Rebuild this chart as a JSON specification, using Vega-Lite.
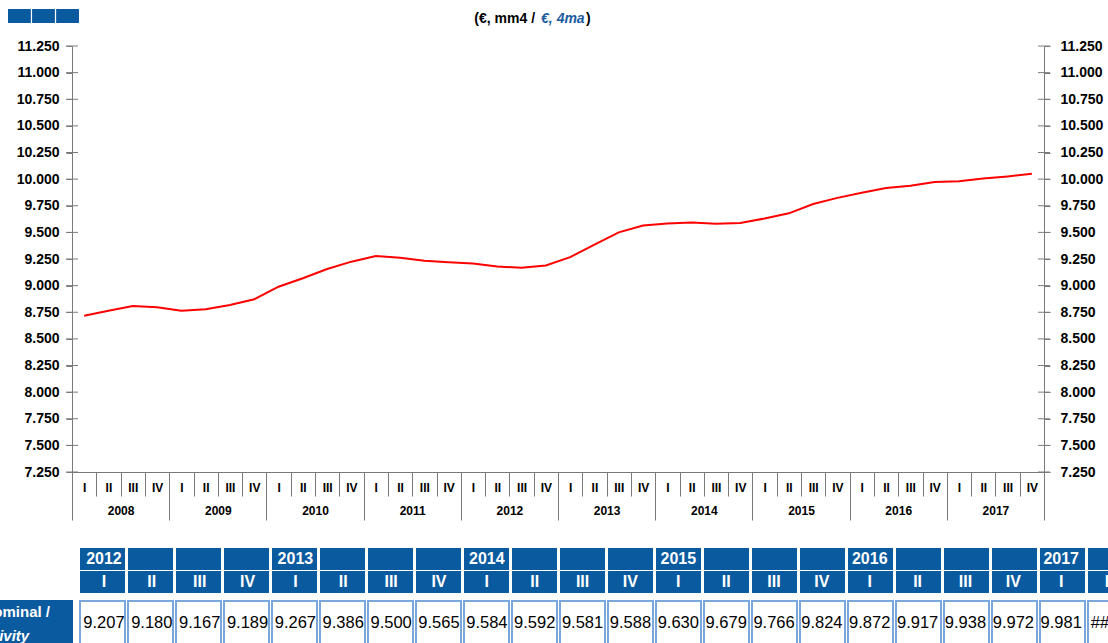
{
  "$schema": "https://vega.github.io/schema/vega-lite/v6.json",
  "usermeta": {"embedOptions": {"actions": false}},
  "width": 972,
  "height": 426,
  "autosize": {"type": "none"},
  "padding": {"left": 72, "top": 46, "right": 64, "bottom": 171},
  "background": "white",
  "config": {
    "view": {"stroke": null},
    "font": "Liberation Sans",
    "axis": {"labelFont": "Liberation Sans", "titleFont": "Liberation Sans"},
    "text": {"font": "Liberation Sans"}
  },
  "datasets": {
    "s": [
      {"year": 2008, "q": "I", "i": 0, "v": 8.718},
      {"year": 2008, "q": "II", "i": 1, "v": 8.765},
      {"year": 2008, "q": "III", "i": 2, "v": 8.809},
      {"year": 2008, "q": "IV", "i": 3, "v": 8.797},
      {"year": 2009, "q": "I", "i": 4, "v": 8.765},
      {"year": 2009, "q": "II", "i": 5, "v": 8.778},
      {"year": 2009, "q": "III", "i": 6, "v": 8.818},
      {"year": 2009, "q": "IV", "i": 7, "v": 8.872},
      {"year": 2010, "q": "I", "i": 8, "v": 8.990},
      {"year": 2010, "q": "II", "i": 9, "v": 9.069},
      {"year": 2010, "q": "III", "i": 10, "v": 9.156},
      {"year": 2010, "q": "IV", "i": 11, "v": 9.225},
      {"year": 2011, "q": "I", "i": 12, "v": 9.278},
      {"year": 2011, "q": "II", "i": 13, "v": 9.262},
      {"year": 2011, "q": "III", "i": 14, "v": 9.234},
      {"year": 2011, "q": "IV", "i": 15, "v": 9.219},
      {"year": 2012, "q": "I", "i": 16, "v": 9.207},
      {"year": 2012, "q": "II", "i": 17, "v": 9.180},
      {"year": 2012, "q": "III", "i": 18, "v": 9.167},
      {"year": 2012, "q": "IV", "i": 19, "v": 9.189},
      {"year": 2013, "q": "I", "i": 20, "v": 9.267},
      {"year": 2013, "q": "II", "i": 21, "v": 9.386},
      {"year": 2013, "q": "III", "i": 22, "v": 9.500},
      {"year": 2013, "q": "IV", "i": 23, "v": 9.565},
      {"year": 2014, "q": "I", "i": 24, "v": 9.584},
      {"year": 2014, "q": "II", "i": 25, "v": 9.592},
      {"year": 2014, "q": "III", "i": 26, "v": 9.581},
      {"year": 2014, "q": "IV", "i": 27, "v": 9.588},
      {"year": 2015, "q": "I", "i": 28, "v": 9.630},
      {"year": 2015, "q": "II", "i": 29, "v": 9.679},
      {"year": 2015, "q": "III", "i": 30, "v": 9.766},
      {"year": 2015, "q": "IV", "i": 31, "v": 9.824},
      {"year": 2016, "q": "I", "i": 32, "v": 9.872},
      {"year": 2016, "q": "II", "i": 33, "v": 9.917},
      {"year": 2016, "q": "III", "i": 34, "v": 9.938},
      {"year": 2016, "q": "IV", "i": 35, "v": 9.972},
      {"year": 2017, "q": "I", "i": 36, "v": 9.981},
      {"year": 2017, "q": "II", "i": 37, "v": 10.005},
      {"year": 2017, "q": "III", "i": 38, "v": 10.025},
      {"year": 2017, "q": "IV", "i": 39, "v": 10.050}
    ],
    "ticks": [
      {"t": 7.25}, {"t": 7.5}, {"t": 7.75}, {"t": 8.0}, {"t": 8.25}, {"t": 8.5}, {"t": 8.75}, {"t": 9.0},
      {"t": 9.25}, {"t": 9.5}, {"t": 9.75}, {"t": 10.0}, {"t": 10.25}, {"t": 10.5}, {"t": 10.75}, {"t": 11.0}, {"t": 11.25}
    ]
  },
  "resolve": {
    "scale": {"x": "independent", "y": "independent"},
    "axis": {"x": "independent", "y": "independent"}
  },
  "layer": [
    {
      "data": {"name": "s"},
      "mark": {"type": "line", "color": "#ff0000", "strokeWidth": 2},
      "encoding": {
        "x": {
          "field": "i", "type": "quantitative",
          "scale": {"domain": [-0.5, 39.5], "nice": false, "zero": false},
          "axis": {
            "orient": "bottom",
            "values": [-0.5, 0.5, 1.5, 2.5, 3.5, 4.5, 5.5, 6.5, 7.5, 8.5, 9.5, 10.5, 11.5, 12.5, 13.5, 14.5, 15.5, 16.5, 17.5, 18.5, 19.5, 20.5, 21.5, 22.5, 23.5, 24.5, 25.5, 26.5, 27.5, 28.5, 29.5, 30.5, 31.5, 32.5, 33.5, 34.5, 35.5, 36.5, 37.5, 38.5, 39.5],
            "labelExpr": "datum.value > 39 ? '' : ['I','II','III','IV'][round(datum.value + 0.5) % 4]",
            "title": null, "grid": false,
            "domainColor": "#7a7a7a", "tickColor": "#7a7a7a", "tickSize": 24,
            "labelOffset": 12.15, "labelPadding": -9, "labelBaseline": "middle",
            "labelFontSize": 12, "labelFontWeight": "bold", "labelColor": "#000000",
            "labelFlush": false, "labelOverlap": false, "labelBound": false
          }
        },
        "y": {
          "field": "v", "type": "quantitative",
          "scale": {"domain": [7.25, 11.25], "nice": false, "zero": false},
          "axis": {
            "orient": "left",
            "values": [7.25, 7.5, 7.75, 8.0, 8.25, 8.5, 8.75, 9.0, 9.25, 9.5, 9.75, 10.0, 10.25, 10.5, 10.75, 11.0, 11.25],
            "format": ".3f", "title": null, "grid": false,
            "domainColor": "#7a7a7a", "tickColor": "#7a7a7a", "tickSize": 6, "labelPadding": 7,
            "labelFontSize": 14, "labelFontWeight": "bold", "labelColor": "#000000",
            "labelFlush": false, "labelOverlap": false, "labelBound": false
          }
        }
      }
    },
    {
      "data": {"name": "ticks"},
      "mark": {"type": "tick", "orient": "horizontal", "size": 12, "thickness": 1, "color": "#7a7a7a", "opacity": 1},
      "encoding": {
        "x": {
          "datum": -0.5, "type": "quantitative",
          "scale": {"domain": [-0.5, 39.5], "nice": false, "zero": false},
          "axis": {
            "orient": "bottom",
            "values": [-0.5, 3.5, 7.5, 11.5, 15.5, 19.5, 23.5, 27.5, 31.5, 35.5, 39.5],
            "labelExpr": "datum.value > 39 ? '' : '' + (2008 + round((datum.value + 0.5) / 4))",
            "title": null, "grid": false, "domain": false,
            "tickColor": "#7a7a7a", "tickSize": 48,
            "labelOffset": 48.6, "labelPadding": -10, "labelBaseline": "middle",
            "labelFontSize": 12, "labelFontWeight": "bold", "labelColor": "#000000",
            "labelFlush": false, "labelOverlap": false, "labelBound": false
          }
        },
        "y": {
          "field": "t", "type": "quantitative",
          "scale": {"domain": [7.25, 11.25], "nice": false, "zero": false},
          "axis": null
        }
      }
    },
    {
      "data": {"name": "ticks"},
      "mark": {"type": "tick", "orient": "horizontal", "size": 12, "thickness": 1, "color": "#7a7a7a", "opacity": 1},
      "encoding": {
        "x": {
          "datum": 39.5, "type": "quantitative",
          "scale": {"domain": [-0.5, 39.5], "nice": false, "zero": false},
          "axis": null
        },
        "y": {
          "field": "t", "type": "quantitative",
          "scale": {"domain": [7.25, 11.25], "nice": false, "zero": false},
          "axis": {
            "orient": "right",
            "values": [7.25, 7.5, 7.75, 8.0, 8.25, 8.5, 8.75, 9.0, 9.25, 9.5, 9.75, 10.0, 10.25, 10.5, 10.75, 11.0, 11.25],
            "format": ".3f", "title": null, "grid": false,
            "domainColor": "#7a7a7a", "tickColor": "#7a7a7a", "tickSize": 6, "labelPadding": 10,
            "labelFontSize": 14, "labelFontWeight": "bold", "labelColor": "#000000",
            "labelFlush": false, "labelOverlap": false, "labelBound": false
          }
        }
      }
    },
    {
      "data": {"values": [{"s": "(€, mm4 /"}]},
      "mark": {"type": "text", "align": "right", "baseline": "middle", "dx": -3, "fontSize": 14, "fontWeight": "bold", "color": "#000000"},
      "encoding": {
        "text": {"field": "s"},
        "x": {"datum": 18.68, "type": "quantitative", "scale": {"domain": [-0.5, 39.5], "nice": false, "zero": false}, "axis": null},
        "y": {"datum": 11.5, "type": "quantitative", "scale": {"domain": [7.25, 11.25], "nice": false, "zero": false}, "axis": null}
      }
    },
    {
      "data": {"values": [{"s": "€, 4ma"}]},
      "mark": {"type": "text", "align": "left", "baseline": "middle", "dx": 3, "fontSize": 14, "fontWeight": "bold", "fontStyle": "italic", "color": "#1c5c9e"},
      "encoding": {
        "text": {"field": "s"},
        "x": {"datum": 18.68, "type": "quantitative", "scale": {"domain": [-0.5, 39.5], "nice": false, "zero": false}, "axis": null},
        "y": {"datum": 11.5, "type": "quantitative", "scale": {"domain": [7.25, 11.25], "nice": false, "zero": false}, "axis": null}
      }
    },
    {
      "data": {"values": [{"s": ")"}]},
      "mark": {"type": "text", "align": "left", "baseline": "middle", "dx": 48, "fontSize": 14, "fontWeight": "bold", "color": "#000000"},
      "encoding": {
        "text": {"field": "s"},
        "x": {"datum": 18.68, "type": "quantitative", "scale": {"domain": [-0.5, 39.5], "nice": false, "zero": false}, "axis": null},
        "y": {"datum": 11.5, "type": "quantitative", "scale": {"domain": [7.25, 11.25], "nice": false, "zero": false}, "axis": null}
      }
    },
    {
      "data": {"values": [{"k": "a"}, {"k": "b"}, {"k": "c"}]},
      "mark": {"type": "rect", "color": "#0a5aa0"},
      "encoding": {
        "x": {"field": "k", "type": "nominal", "scale": {"domain": ["a", "b", "c"], "range": [-64, 7], "paddingInner": 0.05, "paddingOuter": 0}, "axis": null, "legend": null},
        "y": {"datum": "r", "type": "nominal", "scale": {"domain": ["r"], "range": [-37, -23], "paddingInner": 0, "paddingOuter": 0}, "axis": null}
      }
    },
    {
      "data": {"name": "s"},
      "transform": [{"filter": "datum.i >= 16 && datum.i <= 37"}],
      "mark": {"type": "rect", "color": "#0a5aa0"},
      "encoding": {
        "x": {"field": "i", "type": "ordinal", "scale": {"domain": [16, 17, 18, 19, 20, 21, 22, 23, 24, 25, 26, 27, 28, 29, 30, 31, 32, 33, 34, 35, 36, 37], "range": [8, 1061], "paddingInner": 0.0625, "paddingOuter": 0}, "axis": null},
        "y": {"datum": "year", "type": "nominal", "scale": {"domain": ["year", "quarter"], "range": [502, 547], "paddingInner": 0.05, "paddingOuter": 0}, "axis": null}
      }
    },
    {
      "data": {"name": "s"},
      "transform": [{"filter": "datum.i >= 16 && datum.i <= 37"}],
      "mark": {"type": "rect", "color": "#0a5aa0"},
      "encoding": {
        "x": {"field": "i", "type": "ordinal", "scale": {"domain": [16, 17, 18, 19, 20, 21, 22, 23, 24, 25, 26, 27, 28, 29, 30, 31, 32, 33, 34, 35, 36, 37], "range": [8, 1061], "paddingInner": 0.0625, "paddingOuter": 0}, "axis": null},
        "y": {"datum": "quarter", "type": "nominal", "scale": {"domain": ["year", "quarter"], "range": [502, 547], "paddingInner": 0.05, "paddingOuter": 0}, "axis": null}
      }
    },
    {
      "data": {"name": "s"},
      "transform": [{"filter": "datum.i >= 16 && datum.i <= 37 && datum.q == 'I'"}],
      "mark": {"type": "text", "align": "center", "baseline": "middle", "fontSize": 16, "fontWeight": "bold", "color": "#ffffff"},
      "encoding": {
        "text": {"field": "year"},
        "x": {"field": "i", "type": "ordinal", "scale": {"domain": [16, 17, 18, 19, 20, 21, 22, 23, 24, 25, 26, 27, 28, 29, 30, 31, 32, 33, 34, 35, 36, 37], "range": [8, 1061], "paddingInner": 0.0625, "paddingOuter": 0}, "axis": null},
        "y": {"datum": "year", "type": "nominal", "scale": {"domain": ["year", "quarter"], "range": [502, 547], "paddingInner": 0.05, "paddingOuter": 0}, "axis": null}
      }
    },
    {
      "data": {"name": "s"},
      "transform": [{"filter": "datum.i >= 16 && datum.i <= 37"}],
      "mark": {"type": "text", "align": "center", "baseline": "middle", "fontSize": 16, "fontWeight": "bold", "color": "#ffffff"},
      "encoding": {
        "text": {"field": "q"},
        "x": {"field": "i", "type": "ordinal", "scale": {"domain": [16, 17, 18, 19, 20, 21, 22, 23, 24, 25, 26, 27, 28, 29, 30, 31, 32, 33, 34, 35, 36, 37], "range": [8, 1061], "paddingInner": 0.0625, "paddingOuter": 0}, "axis": null},
        "y": {"datum": "quarter", "type": "nominal", "scale": {"domain": ["year", "quarter"], "range": [502, 547], "paddingInner": 0.05, "paddingOuter": 0}, "axis": null}
      }
    },
    {
      "data": {"name": "s"},
      "transform": [{"filter": "datum.i >= 16 && datum.i <= 37"}],
      "mark": {"type": "rect", "fill": "#ffffff", "stroke": "#7ba7dd", "strokeWidth": 2},
      "encoding": {
        "x": {"field": "i", "type": "ordinal", "scale": {"domain": [16, 17, 18, 19, 20, 21, 22, 23, 24, 25, 26, 27, 28, 29, 30, 31, 32, 33, 34, 35, 36, 37], "range": [8, 1061], "paddingInner": 0.0625, "paddingOuter": 0}, "axis": null},
        "y": {"datum": "value", "type": "nominal", "scale": {"domain": ["value"], "range": [555, 615], "paddingInner": 0, "paddingOuter": 0}, "axis": null}
      }
    },
    {
      "data": {"name": "s"},
      "transform": [
        {"filter": "datum.i >= 16 && datum.i <= 37"},
        {"calculate": "datum.v >= 10 ? '####' : format(datum.v, '.3f')", "as": "shown"}
      ],
      "mark": {"type": "text", "align": "center", "baseline": "middle", "fontSize": 16.5, "color": "#000000"},
      "encoding": {
        "text": {"field": "shown"},
        "x": {"field": "i", "type": "ordinal", "scale": {"domain": [16, 17, 18, 19, 20, 21, 22, 23, 24, 25, 26, 27, 28, 29, 30, 31, 32, 33, 34, 35, 36, 37], "range": [8, 1061], "paddingInner": 0.0625, "paddingOuter": 0}, "axis": null},
        "y": {"datum": "value", "type": "nominal", "scale": {"domain": ["value"], "range": [555, 598], "paddingInner": 0, "paddingOuter": 0}, "axis": null}
      }
    },
    {
      "data": {"values": [{"c": "label"}]},
      "mark": {"type": "rect", "color": "#0a5aa0"},
      "encoding": {
        "x": {"datum": "lab", "type": "nominal", "scale": {"domain": ["lab"], "range": [-201, 1], "paddingInner": 0, "paddingOuter": 0}, "axis": null},
        "y": {"datum": "value", "type": "nominal", "scale": {"domain": ["value"], "range": [554, 615], "paddingInner": 0, "paddingOuter": 0}, "axis": null}
      }
    },
    {
      "data": {"values": [{"s": "Productividad nominal /"}]},
      "mark": {"type": "text", "align": "left", "baseline": "middle", "fontSize": 15, "fontWeight": "bold", "color": "#ffffff"},
      "encoding": {
        "text": {"field": "s"},
        "x": {"datum": "lab", "type": "nominal", "scale": {"domain": ["lab"], "range": [-242, -142], "paddingInner": 0, "paddingOuter": 0}, "axis": null},
        "y": {"datum": "l1", "type": "nominal", "scale": {"domain": ["l1", "l2"], "range": [554, 602], "paddingInner": 0, "paddingOuter": 0}, "axis": null}
      }
    },
    {
      "data": {"values": [{"s": "Nominal productivity"}]},
      "mark": {"type": "text", "align": "left", "baseline": "middle", "fontSize": 15, "fontWeight": "bold", "fontStyle": "italic", "color": "#ffffff"},
      "encoding": {
        "text": {"field": "s"},
        "x": {"datum": "lab", "type": "nominal", "scale": {"domain": ["lab"], "range": [-242, -142], "paddingInner": 0, "paddingOuter": 0}, "axis": null},
        "y": {"datum": "l2", "type": "nominal", "scale": {"domain": ["l1", "l2"], "range": [554, 602], "paddingInner": 0, "paddingOuter": 0}, "axis": null}
      }
    }
  ]
}
